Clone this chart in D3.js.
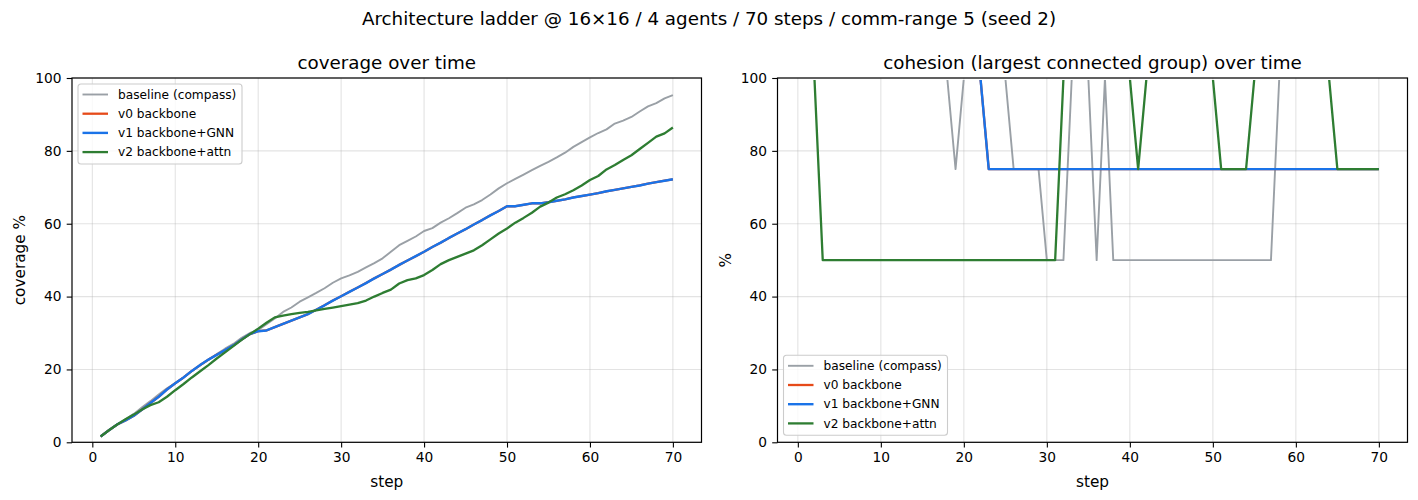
<!DOCTYPE html>
<html>
<head>
<meta charset="utf-8">
<script src="https://cdn.jsdelivr.net/npm/d3@7"></script>
<style>
    body { margin: 0; background: #fff; }
    svg { display: block; font-family: "DejaVu Sans", sans-serif; }
</style>
</head>
<body>
<script>
"use strict";

// step index (x axis)
const steps = d3.range(1, 71);

const seriesNames = ['baseline (compass)', 'v0 backbone', 'v1 backbone+GNN', 'v2 backbone+attn'];
const seriesColors = ['#9aa0a6', '#e64a19', '#1a73e8', '#2e7d32'];
const seriesWidths = [1.9, 2.3, 2.4, 2.3];

const xTicks = [0, 10, 20, 30, 40, 50, 60, 70];
const yTicks = [0, 20, 40, 60, 80, 100];

// coverage % per step
const covBaseline = [
    1.6, 3.3, 4.9, 6.3, 7.8, 9.6, 11.3, 13.1, 14.8, 16.2,
    17.8, 19.5, 21.1, 22.6, 24.2, 25.7, 27.0, 28.7, 30.0, 30.8,
    32.4, 34.0, 35.8, 37.0, 38.6, 39.8, 41.0, 42.3, 43.8, 45.0,
    45.8, 46.8, 48.0, 49.2, 50.5, 52.3, 54.1, 55.3, 56.5, 58.0,
    58.8, 60.3, 61.5, 62.9, 64.4, 65.3, 66.5, 68.0, 69.7, 71.1,
    72.3, 73.5, 74.7, 75.9, 77.0, 78.2, 79.5, 81.1, 82.4, 83.7,
    84.9, 85.9, 87.5, 88.3, 89.3, 90.8, 92.2, 93.1, 94.4, 95.3
];
const covV1 = [
    1.6, 3.3, 4.9, 6.0, 7.3, 9.0, 10.8, 12.5, 14.5, 16.2,
    17.8, 19.6, 21.2, 22.7, 24.0, 25.3, 26.6, 28.2, 29.7, 30.5,
    30.7, 31.6, 32.5, 33.4, 34.3, 35.2, 36.4, 37.6, 38.9, 40.1,
    41.3, 42.5, 43.7, 45.0, 46.2, 47.4, 48.7, 49.9, 51.1, 52.3,
    53.6, 54.8, 56.1, 57.3, 58.5, 59.8, 61.0, 62.3, 63.5, 64.8,
    64.8, 65.2, 65.6, 65.6, 65.9, 66.3, 66.7, 67.2, 67.6, 68.0,
    68.4, 68.9, 69.3, 69.7, 70.1, 70.5, 71.0, 71.4, 71.8, 72.2
];
const covV0 = covV1.slice();  // v0 run is identical to v1, hidden under it
const covV2 = [
    1.6, 3.3, 4.9, 6.3, 7.6, 9.0, 10.2, 11.0, 12.5, 14.3,
    16.0, 17.8, 19.5, 21.2, 23.0, 24.7, 26.4, 28.1, 29.7, 31.2,
    32.8, 34.3, 34.8, 35.2, 35.5, 35.8, 36.2, 36.6, 37.0, 37.4,
    37.8, 38.2, 38.9, 40.0, 41.0, 41.9, 43.6, 44.5, 45.0, 45.9,
    47.3, 48.9, 50.0, 50.9, 51.8, 52.7, 54.1, 55.7, 57.3, 58.7,
    60.3, 61.6, 63.0, 64.7, 65.8, 67.2, 68.1, 69.2, 70.5, 72.0,
    73.1, 74.9, 76.1, 77.5, 78.8, 80.5, 82.2, 83.9, 84.8, 86.4
];

// cohesion % (largest connected group) per step
const cohBaseline = [
    100, 100, 100, 100, 100, 100, 100, 100, 100, 100,
    100, 100, 100, 100, 100, 100, 100, 100, 75, 100,
    100, 100, 100, 100, 100, 75, 75, 75, 75, 50,
    50, 50, 100, 100, 100, 50, 100, 50, 50, 50,
    50, 50, 50, 50, 50, 50, 50, 50, 50, 50,
    50, 50, 50, 50, 50, 50, 50, 100, 100, 100,
    100, 100, 100, 100, 100, 100, 100, 100, 100, 100
];
const cohV1 = [
    100, 100, 100, 100, 100, 100, 100, 100, 100, 100,
    100, 100, 100, 100, 100, 100, 100, 100, 100, 100,
    100, 100, 75, 75, 75, 75, 75, 75, 75, 75,
    75, 75, 75, 75, 75, 75, 75, 75, 75, 75,
    75, 75, 75, 75, 75, 75, 75, 75, 75, 75,
    75, 75, 75, 75, 75, 75, 75, 75, 75, 75,
    75, 75, 75, 75, 75, 75, 75, 75, 75, 75
];
const cohV0 = cohV1.slice();  // same as v1
const cohV2 = [
    100, 100, 50, 50, 50, 50, 50, 50, 50, 50,
    50, 50, 50, 50, 50, 50, 50, 50, 50, 50,
    50, 50, 50, 50, 50, 50, 50, 50, 50, 50,
    50, 100, 100, 100, 100, 100, 100, 100, 100, 100,
    75, 100, 100, 100, 100, 100, 100, 100, 100, 100,
    75, 75, 75, 75, 100, 100, 100, 100, 100, 100,
    100, 100, 100, 100, 75, 75, 75, 75, 75, 75
];

const W = 1418, H = 500;
const TICK_FONT = 13.75, LABEL_FONT = 15.3, TITLE_FONT = 18.3, LEGEND_FONT = 12.2;

let svg = d3.select('body').append('svg')
    .attr('width', W)
    .attr('height', H);

svg.append('text')
    .attr('x', 709)
    .attr('y', 25)
    .attr('text-anchor', 'middle')
    .attr('font-size', TITLE_FONT)
    .text('Architecture ladder @ 16×16 / 4 agents / 70 steps / comm-range 5 (seed 2)');

function drawPanel(opts) {
    let left = opts.left, right = opts.right, top = 78, bottom = 442.3;

    // matplotlib style 5% margins around steps 1..70
    let x = d3.scaleLinear().domain([1 - 3.45, 70 + 3.45]).range([left, right]);
    let y = d3.scaleLinear().domain([0, 100]).range([bottom, top]);

    let g = svg.append('g');

    // grid
    g.append('g').selectAll('line.gx').data(xTicks).join('line')
        .attr('x1', d => x(d)).attr('x2', d => x(d))
        .attr('y1', top).attr('y2', bottom)
        .attr('stroke', '#b0b0b0').attr('stroke-opacity', 0.35).attr('stroke-width', 1.1);
    g.append('g').selectAll('line.gy').data(yTicks).join('line')
        .attr('x1', left).attr('x2', right)
        .attr('y1', d => y(d)).attr('y2', d => y(d))
        .attr('stroke', '#b0b0b0').attr('stroke-opacity', 0.35).attr('stroke-width', 1.1);

    // lines (values sitting on the 100 limit vanish under the top spine)
    let clipId = 'clip-' + opts.id;
    g.append('clipPath').attr('id', clipId)
        .append('rect')
        .attr('x', left).attr('y', top + 2)
        .attr('width', right - left).attr('height', bottom - top - 2);

    let line = d3.line()
        .x((d, i) => x(steps[i]))
        .y(d => y(d));

    g.append('g').attr('clip-path', `url(#${clipId})`)
        .selectAll('path').data(opts.series).join('path')
        .attr('d', d => line(d))
        .attr('fill', 'none')
        .attr('stroke', (d, i) => seriesColors[i])
        .attr('stroke-width', (d, i) => seriesWidths[i])
        .attr('stroke-linejoin', 'round')
        .attr('stroke-linecap', 'butt');

    // axes
    let xAxis = g.append('g')
        .attr('transform', `translate(0,${bottom})`)
        .call(d3.axisBottom(x).tickValues(xTicks).tickSize(5.3).tickPadding(4.5).tickSizeOuter(0));
    let yAxis = g.append('g')
        .attr('transform', `translate(${left},0)`)
        .call(d3.axisLeft(y).tickValues(yTicks).tickSize(5.3).tickPadding(5.3).tickSizeOuter(0));
    [xAxis, yAxis].forEach(a => {
        a.select('.domain').remove();
        a.attr('font-family', null).attr('font-size', TICK_FONT);
        a.selectAll('line').attr('stroke', '#000').attr('stroke-width', 1.1);
        a.selectAll('text').attr('fill', '#000');
    });

    // spines
    g.append('rect')
        .attr('x', left).attr('y', top)
        .attr('width', right - left).attr('height', bottom - top)
        .attr('fill', 'none').attr('stroke', '#000').attr('stroke-width', 1.2);

    // titles / labels
    g.append('text')
        .attr('x', (left + right) / 2).attr('y', 68.8)
        .attr('text-anchor', 'middle').attr('font-size', TITLE_FONT)
        .text(opts.title);
    g.append('text')
        .attr('x', (left + right) / 2).attr('y', 487)
        .attr('text-anchor', 'middle').attr('font-size', LABEL_FONT)
        .text('step');
    g.append('text')
        .attr('transform', `translate(${opts.ylabelX},${(top + bottom) / 2}) rotate(-90)`)
        .attr('text-anchor', 'middle').attr('font-size', LABEL_FONT)
        .text(opts.ylabel);

    // legend
    let lw = 164, lh = 80;
    let lx = left + 6;
    let ly = opts.legendTop ? top + 6 : bottom - 7 - lh;
    let legend = g.append('g').attr('transform', `translate(${lx},${ly})`);
    legend.append('rect')
        .attr('width', lw).attr('height', lh)
        .attr('rx', 3)
        .attr('fill', '#fff').attr('fill-opacity', 0.8)
        .attr('stroke', '#cccccc').attr('stroke-width', 1.1);
    let items = legend.selectAll('g.item').data(seriesNames).join('g')
        .attr('transform', (d, i) => `translate(0,${10.5 + i * 19.2})`);
    items.append('line')
        .attr('x1', 4.5).attr('x2', 30)
        .attr('stroke', (d, i) => seriesColors[i])
        .attr('stroke-width', (d, i) => seriesWidths[i]);
    items.append('text')
        .attr('x', 40).attr('dy', '0.35em')
        .attr('font-size', LEGEND_FONT)
        .text(d => d);
}

drawPanel({
    id: 'cov',
    left: 72, right: 701.5,
    title: 'coverage over time',
    ylabel: 'coverage %',
    ylabelX: 25,
    legendTop: true,
    series: [covBaseline, covV0, covV1, covV2]
});

drawPanel({
    id: 'coh',
    left: 777.5, right: 1407.5,
    title: 'cohesion (largest connected group) over time',
    ylabel: '%',
    ylabelX: 731,
    legendTop: false,
    series: [cohBaseline, cohV0, cohV1, cohV2]
});
</script>
</body>
</html>
